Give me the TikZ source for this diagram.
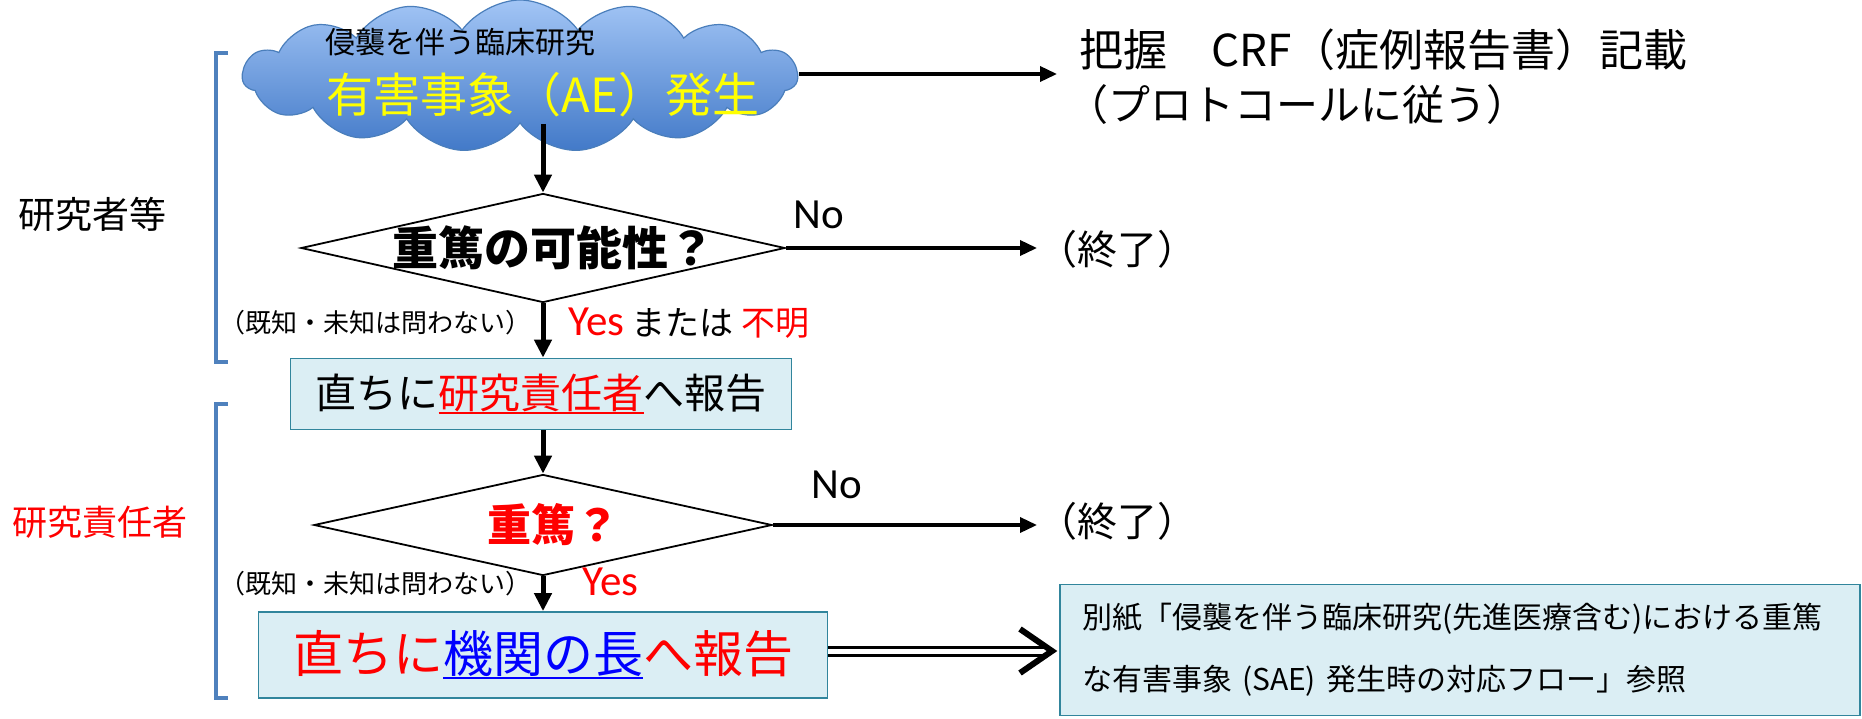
\documentclass[tikz,border=0pt]{standalone}
\usepackage{fontspec}
\setmainfont{Noto Sans CJK JP}
\newfontfamily\calfont{Carlito}
\usetikzlibrary{shapes.geometric,shapes.symbols,arrows.meta}
\definecolor{cloudtop}{HTML}{A2C5F5}
\definecolor{cloudbot}{HTML}{4279C8}
\definecolor{cloudedge}{HTML}{4A7EBB}
\definecolor{boxfill}{HTML}{DBEEF4}
\definecolor{boxedge}{HTML}{31859C}
\definecolor{brk}{HTML}{4F81BD}
\definecolor{myred}{HTML}{FF0000}
\definecolor{myblue}{HTML}{0000FF}
\definecolor{myyellow}{HTML}{FFFF00}
\newcommand{\fs}[1]{\fontsize{#1}{#1}\selectfont}
\newcommand{\myul}[1]{\setbox0\hbox{#1}\rlap{\rule[-0.13em]{\wd0}{0.055em}}\box0}
\begin{document}
\begin{tikzpicture}[x=1pt,y=-1pt,
  arr/.style={line width=3.5pt,-{Triangle[length=17pt,width=15pt]}},
  varr/.style={line width=5pt,-{Triangle[length=18pt,width=17pt]}},
  dia/.style={diamond,draw,line width=1.8pt,inner sep=0pt},
  box/.style={draw=boxedge,fill=boxfill,line width=1.8pt,inner sep=0pt},
  brack/.style={draw=brk,line width=4.5pt},
  dbl/.style={double,double distance=5pt,line width=3pt},
  chev/.style={line width=6pt,line join=miter}]
\useasboundingbox (0,0) rectangle (1862,718);
% brackets
\draw[brack] (228,53) -- (216,53) -- (216,362) -- (228,362);
\draw[brack] (228,404) -- (216,404) -- (216,698) -- (228,698);
\node[font=\fs{37}] (lab1) at (92,214) {研究者等};
\node[font=\fs{35},text=myred] (lab2) at (100,522) {研究責任者};
% cloud
\node[cloud,cloud puffs=15,cloud puff arc=110,draw=cloudedge,line width=1.2pt,
  top color=cloudtop,bottom color=cloudbot,minimum width=555pt,minimum height=152pt,inner sep=0pt] (cloud) at (520,76) {};
\node[font=\fs{30}] (cl1) at (460,42) {侵襲を伴う臨床研究};
\node[font=\fs{47},text=myyellow] (cl2) at (543,95) {有害事象（AE）発生};
% right texts
\node[anchor=west,font=\fs{44},inner sep=0pt] (crf) at (1079,50) {把握　CRF（症例報告書）記載};
\node[anchor=west,font=\fs{42},inner sep=0pt] (proto) at (1066,105) {（プロトコールに従う）};
\coordinate (a1end) at (1057,74);
\draw[arr] (cloud.east |- a1end) -- (a1end);
% diamond 1
\node[dia,minimum width=484pt,minimum height=109pt] (d1) at (543,248) {};
\node[font=\fs{46}\bfseries] (d1t) at (553,248) {重篤の可能性？};
\node[font=\calfont\fs{43}] (no1) at (819,215) {No};
\node[anchor=west,font=\fs{40},inner sep=0pt] (end1) at (1037,249) {（終了）};
\draw[varr] (cloud.south -| d1.north) -- (d1.north);
\draw[arr] (d1.east) -- (d1.east -| end1.west);
\node[anchor=west,font=\fs{26},inner sep=0pt] (note1) at (219,323) {（既知・未知は問わない）};
\node[anchor=west,font=\fs{34},inner sep=0pt] (yes1) at (568,323) {{\calfont\fs{43}\textcolor{myred}{Yes}} または \textcolor{myred}{不明}};
% box 1
\node[box,minimum width=501pt,minimum height=71pt,font=\fs{41}] (b1) at (541,394) {直ちに\textcolor{myred}{\myul{研究責任者}}へ報告};
\draw[varr] (d1.south) -- (d1.south |- b1.north);
% diamond 2
\node[dia,minimum width=458pt,minimum height=101pt] (d2) at (543,525) {};
\node[font=\fs{44}\bfseries,text=myred] (d2t) at (553,525) {重篤？};
\node[font=\calfont\fs{43}] (no2) at (837,485) {No};
\node[anchor=west,font=\fs{40},inner sep=0pt] (end2) at (1037,521) {（終了）};
\draw[varr] (b1.south -| d2.north) -- (d2.north);
\draw[arr] (d2.east) -- (d2.east -| end2.west);
\node[anchor=west,font=\fs{26},inner sep=0pt] (note2) at (219,584) {（既知・未知は問わない）};
\node[anchor=west,font=\calfont\fs{43},text=myred,inner sep=0pt] (yes2) at (582,582) {Yes};
% box 2
\node[box,minimum width=569pt,minimum height=86pt,font=\fs{50}] (b2) at (543,655) {\textcolor{myred}{直ちに}\textcolor{myblue}{\myul{機関の長}}\textcolor{myred}{へ報告}};
\draw[varr] (d2.south) -- (d2.south |- b2.north);
% box 3
\node[box,minimum width=800pt,minimum height=131pt,text width=756pt,align=left,
  font=\fontsize{30}{62}\selectfont] (b3) at (1460,650)
  {別紙「侵襲を伴う臨床研究(先進医療含む)における重篤\\な有害事象 (SAE) 発生時の対応フロー」参照};
\coordinate (tip) at (1052,651);
\draw[dbl] (b2.east |- tip) -- ([xshift=-6pt]tip);
\draw[chev] ([shift={(-32,-22)}]tip) -- (tip) -- ([shift={(-32,22)}]tip);
\end{tikzpicture}
\end{document}
